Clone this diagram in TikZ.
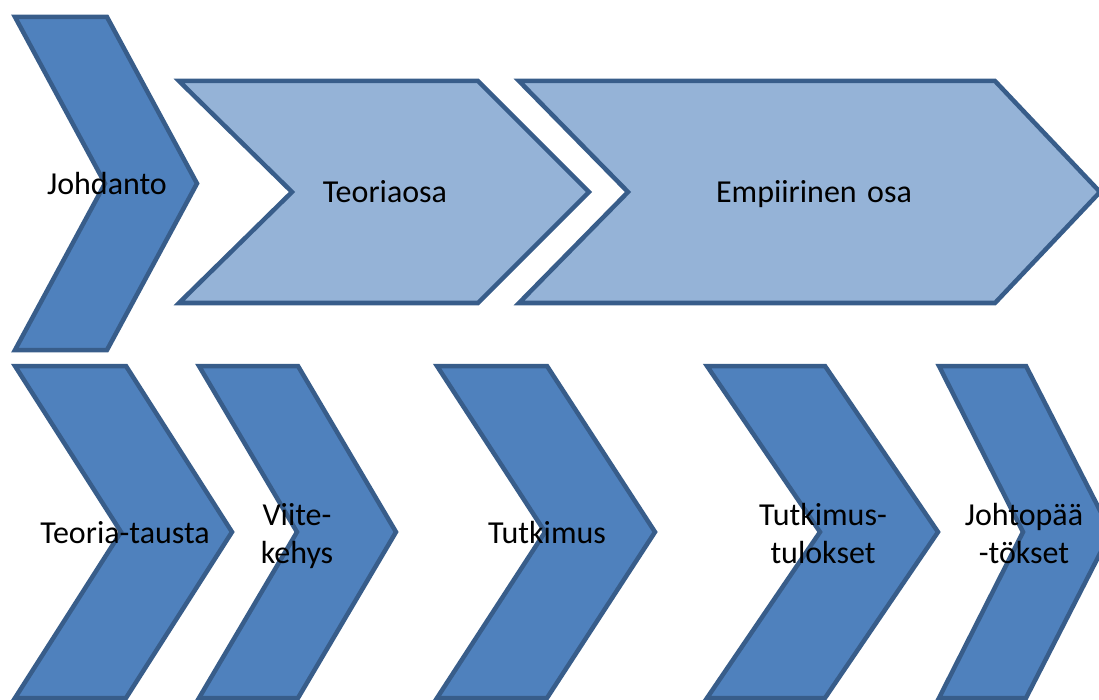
\documentclass[tikz,border=0pt]{standalone}
\usepackage{fontspec}
\setmainfont{Carlito}
\definecolor{chevdark}{HTML}{4F81BD}
\definecolor{chevlight}{HTML}{95B3D7}
\definecolor{chevedge}{HTML}{385D8A}
\begin{document}
\begin{tikzpicture}[
      x=1pt,y=-1pt,
      chevron/.style={
         draw=chevedge,
         line width=4.5pt,
         line join=miter
      },
      darkchev/.style={chevron,fill=chevdark},
      lightchev/.style={chevron,fill=chevlight},
      caption/.style={
         anchor=base,
         align=center,
         inner sep=0pt,
         font=\fontsize{32}{38}\selectfont
      }
    ]
    \useasboundingbox (0,0) rectangle (1099,700);
    \clip (0,0) rectangle (1099,700);
    % chevrons: style / top left x / top right x / notch x / tip x / top y / bottom y
    \foreach \sty/\xa/\xb/\xn/\xt/\ya/\yb in {
        darkchev/15/107/105/197/17/350,
        lightchev/179/478/292/589/81/303,
        lightchev/519/995/628/1100/81/303,
        darkchev/15/126/121/232/366/698,
        darkchev/199/298/297/396/366/698,
        darkchev/437/547/545/655/366/698,
        darkchev/707/825/820/938/366/698,
        darkchev/939/1026/1023/1111/366/698}
      \draw[\sty] (\xa,\ya) -- (\xb,\ya) -- (\xt,{(\ya+\yb)/2}) -- (\xb,\yb)
         -- (\xa,\yb) -- (\xn,{(\ya+\yb)/2}) -- cycle;
    % texts (two-line ones sit on their last baseline)
    \node[caption] (johdanto) at (107,195) {Johdanto};
    \node[caption] (teoriaosa) at (385,203) {Teoriaosa};
    \node[caption] (empiirinen) at (814,203) {Empiirinen\hspace{.1em} osa};
    \node[caption] (tausta) at (125,543) {Teoria-tausta};
    \node[caption] (viitekehys) at (297,563) {Viite-\\kehys};
    \node[caption] (tutkimus) at (547,543) {Tutkimus};
    \node[caption] (tulokset) at (823,563) {Tutkimus-\\tulokset};
    \node[caption] (johtopaatokset) at (1024,563) {Johtopää\\-tökset};
\end{tikzpicture}
\end{document}
